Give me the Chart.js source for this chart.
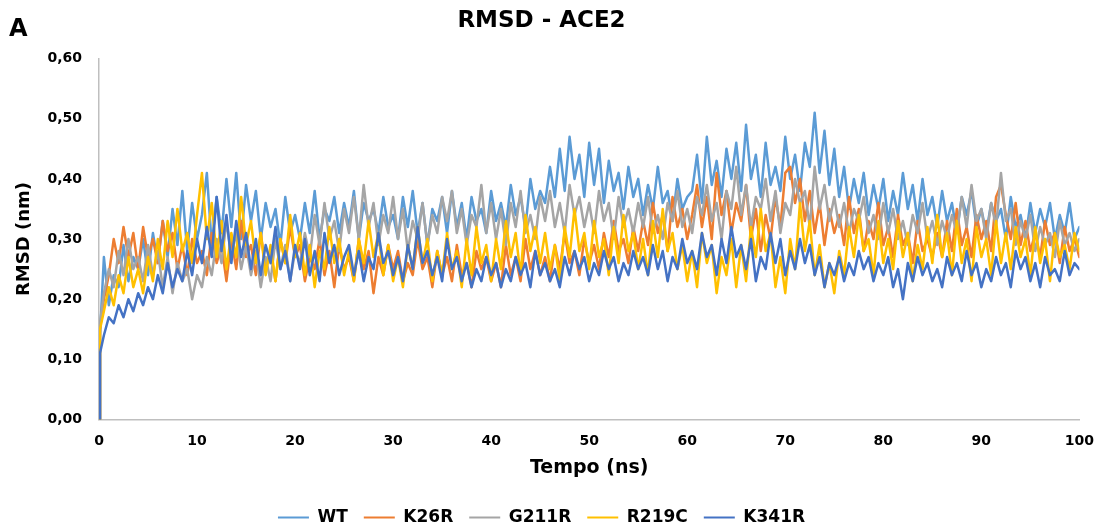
<!DOCTYPE html>
<html>
<head>
<meta charset="utf-8">
<script src="https://cdn.jsdelivr.net/npm/chart.js@4.4.1/dist/chart.umd.min.js"></script>
<style>
html,body{margin:0;padding:0;background:#fff;}
#wrap{position:relative;width:1107px;height:526px;}
</style>
</head>
<body>
<div id="wrap"><canvas id="c" width="1107" height="526"></canvas></div>
<script>
const tempo = [0,0.1,
0.5,1,1.5,2,2.5,3,3.5,4,4.5,5,
5.5,6,6.5,7,7.5,8,8.5,9,9.5,10,
10.5,11,11.5,12,12.5,13,13.5,14,14.5,15,
15.5,16,16.5,17,17.5,18,18.5,19,19.5,20,
20.5,21,21.5,22,22.5,23,23.5,24,24.5,25,
25.5,26,26.5,27,27.5,28,28.5,29,29.5,30,
30.5,31,31.5,32,32.5,33,33.5,34,34.5,35,
35.5,36,36.5,37,37.5,38,38.5,39,39.5,40,
40.5,41,41.5,42,42.5,43,43.5,44,44.5,45,
45.5,46,46.5,47,47.5,48,48.5,49,49.5,50,
50.5,51,51.5,52,52.5,53,53.5,54,54.5,55,
55.5,56,56.5,57,57.5,58,58.5,59,59.5,60,
60.5,61,61.5,62,62.5,63,63.5,64,64.5,65,
65.5,66,66.5,67,67.5,68,68.5,69,69.5,70,
70.5,71,71.5,72,72.5,73,73.5,74,74.5,75,
75.5,76,76.5,77,77.5,78,78.5,79,79.5,80,
80.5,81,81.5,82,82.5,83,83.5,84,84.5,85,
85.5,86,86.5,87,87.5,88,88.5,89,89.5,90,
90.5,91,91.5,92,92.5,93,93.5,94,94.5,95,
95.5,96,96.5,97,97.5,98,98.5,99,99.5,100];

const wt = [0,0.14,
0.27,0.19,0.24,0.22,0.29,0.23,0.27,0.25,0.30,0.24,
0.31,0.26,0.33,0.27,0.35,0.29,0.38,0.28,0.36,0.30,
0.34,0.41,0.29,0.37,0.31,0.40,0.32,0.41,0.30,0.39,
0.33,0.38,0.30,0.36,0.32,0.35,0.29,0.37,0.31,0.34,
0.30,0.36,0.31,0.38,0.30,0.35,0.33,0.37,0.31,0.36,
0.32,0.38,0.30,0.36,0.33,0.35,0.31,0.37,0.32,0.34,
0.30,0.37,0.32,0.38,0.31,0.36,0.29,0.35,0.33,0.37,
0.31,0.38,0.32,0.36,0.30,0.37,0.33,0.35,0.31,0.38,
0.33,0.36,0.32,0.39,0.34,0.37,0.32,0.40,0.35,0.38,
0.36,0.42,0.37,0.45,0.38,0.47,0.40,0.44,0.37,0.46,
0.39,0.45,0.36,0.43,0.38,0.41,0.35,0.42,0.37,0.40,
0.34,0.39,0.35,0.42,0.36,0.38,0.33,0.40,0.35,0.37,
0.38,0.44,0.36,0.47,0.39,0.43,0.37,0.45,0.40,0.46,
0.38,0.49,0.40,0.44,0.37,0.46,0.39,0.42,0.38,0.47,
0.40,0.44,0.38,0.46,0.42,0.51,0.41,0.48,0.39,0.45,
0.37,0.42,0.35,0.40,0.36,0.41,0.34,0.39,0.35,0.40,
0.33,0.38,0.34,0.41,0.35,0.39,0.33,0.40,0.34,0.37,
0.32,0.38,0.33,0.36,0.31,0.37,0.34,0.38,0.32,0.35,
0.31,0.36,0.33,0.35,0.30,0.37,0.32,0.34,0.30,0.36,
0.31,0.35,0.32,0.36,0.30,0.34,0.31,0.36,0.30,0.32];

const k26r = [0,0.15,
0.20,0.24,0.30,0.26,0.32,0.27,0.31,0.25,0.32,0.27,
0.30,0.26,0.33,0.28,0.31,0.25,0.29,0.24,0.30,0.26,
0.28,0.24,0.31,0.26,0.29,0.23,0.30,0.25,0.33,0.27,
0.29,0.24,0.31,0.25,0.28,0.23,0.30,0.26,0.32,0.27,
0.29,0.23,0.27,0.25,0.30,0.24,0.28,0.22,0.29,0.25,
0.27,0.23,0.30,0.25,0.28,0.21,0.27,0.24,0.29,0.25,
0.28,0.23,0.26,0.24,0.30,0.25,0.27,0.22,0.28,0.24,
0.27,0.23,0.29,0.24,0.26,0.22,0.28,0.25,0.27,0.23,
0.26,0.22,0.29,0.24,0.27,0.23,0.30,0.25,0.28,0.24,
0.27,0.23,0.29,0.25,0.31,0.26,0.28,0.24,0.30,0.26,
0.29,0.25,0.31,0.27,0.33,0.28,0.30,0.26,0.32,0.28,
0.33,0.29,0.36,0.31,0.34,0.28,0.37,0.32,0.35,0.30,
0.34,0.39,0.32,0.37,0.30,0.41,0.34,0.38,0.31,0.36,
0.33,0.39,0.30,0.35,0.28,0.34,0.30,0.37,0.32,0.41,
0.42,0.36,0.40,0.33,0.38,0.31,0.36,0.29,0.35,0.31,
0.34,0.29,0.37,0.31,0.35,0.28,0.33,0.30,0.36,0.29,
0.32,0.27,0.34,0.29,0.31,0.26,0.33,0.28,0.30,0.27,
0.31,0.27,0.33,0.28,0.35,0.29,0.32,0.27,0.34,0.30,
0.33,0.28,0.37,0.39,0.34,0.30,0.36,0.29,0.33,0.28,
0.31,0.27,0.33,0.29,0.31,0.26,0.32,0.28,0.30,0.27];

const g211r = [0,0.16,
0.21,0.25,0.22,0.28,0.24,0.30,0.25,0.27,0.23,0.29,
0.24,0.28,0.22,0.27,0.21,0.26,0.23,0.25,0.20,0.24,
0.22,0.27,0.24,0.30,0.26,0.33,0.27,0.31,0.25,0.29,
0.24,0.28,0.22,0.27,0.23,0.30,0.25,0.29,0.23,0.28,
0.26,0.31,0.27,0.34,0.29,0.36,0.30,0.33,0.28,0.35,
0.31,0.37,0.30,0.39,0.32,0.36,0.29,0.34,0.31,0.37,
0.30,0.35,0.28,0.33,0.30,0.36,0.29,0.34,0.31,0.37,
0.33,0.38,0.31,0.35,0.29,0.34,0.32,0.39,0.31,0.36,
0.30,0.35,0.29,0.36,0.32,0.38,0.31,0.34,0.30,0.37,
0.33,0.38,0.32,0.36,0.31,0.39,0.34,0.37,0.32,0.36,
0.31,0.38,0.33,0.36,0.30,0.37,0.32,0.35,0.31,0.36,
0.32,0.37,0.31,0.34,0.30,0.36,0.33,0.38,0.32,0.35,
0.31,0.37,0.34,0.39,0.33,0.36,0.30,0.38,0.35,0.42,
0.34,0.39,0.32,0.37,0.35,0.40,0.33,0.38,0.31,0.36,
0.34,0.40,0.36,0.38,0.32,0.42,0.35,0.39,0.33,0.37,
0.32,0.36,0.31,0.35,0.33,0.37,0.31,0.34,0.30,0.36,
0.31,0.35,0.30,0.33,0.29,0.34,0.31,0.36,0.30,0.33,
0.29,0.33,0.30,0.34,0.31,0.37,0.32,0.39,0.33,0.35,
0.30,0.36,0.32,0.41,0.33,0.35,0.29,0.33,0.30,0.34,
0.28,0.32,0.29,0.31,0.27,0.33,0.29,0.31,0.28,0.30];

const r219c = [0,0.15,
0.18,0.22,0.19,0.24,0.21,0.27,0.22,0.25,0.21,0.27,
0.23,0.30,0.25,0.33,0.27,0.35,0.28,0.31,0.26,0.34,
0.41,0.30,0.36,0.27,0.33,0.25,0.31,0.27,0.37,0.29,
0.33,0.26,0.31,0.24,0.29,0.23,0.30,0.26,0.34,0.27,
0.31,0.24,0.29,0.22,0.28,0.25,0.32,0.26,0.30,0.24,
0.28,0.23,0.30,0.26,0.33,0.27,0.31,0.24,0.29,0.23,
0.27,0.22,0.29,0.25,0.32,0.26,0.30,0.23,0.28,0.24,
0.31,0.25,0.28,0.22,0.30,0.24,0.32,0.26,0.29,0.23,
0.30,0.25,0.33,0.27,0.31,0.24,0.34,0.28,0.32,0.26,
0.31,0.25,0.29,0.23,0.32,0.27,0.35,0.28,0.31,0.25,
0.33,0.27,0.30,0.24,0.32,0.26,0.34,0.28,0.31,0.25,
0.30,0.24,0.33,0.27,0.35,0.28,0.31,0.25,0.29,0.23,
0.28,0.22,0.31,0.26,0.29,0.21,0.27,0.24,0.30,0.22,
0.29,0.23,0.32,0.27,0.35,0.28,0.31,0.22,0.27,0.21,
0.30,0.25,0.36,0.28,0.33,0.24,0.29,0.22,0.26,0.21,
0.28,0.24,0.32,0.27,0.34,0.28,0.30,0.24,0.33,0.26,
0.30,0.25,0.33,0.27,0.31,0.23,0.29,0.25,0.32,0.26,
0.34,0.27,0.31,0.24,0.33,0.26,0.30,0.23,0.32,0.27,
0.30,0.24,0.33,0.26,0.31,0.25,0.32,0.27,0.30,0.24,
0.32,0.26,0.30,0.23,0.31,0.27,0.29,0.25,0.31,0.28];

const k341r = [0,0.11,
0.14,0.17,0.16,0.19,0.17,0.20,0.18,0.21,0.19,0.22,
0.20,0.24,0.21,0.26,0.22,0.25,0.23,0.28,0.24,0.30,
0.26,0.32,0.27,0.37,0.28,0.34,0.26,0.33,0.27,0.31,
0.25,0.30,0.24,0.29,0.26,0.32,0.25,0.28,0.23,0.29,
0.25,0.30,0.24,0.28,0.23,0.31,0.26,0.29,0.24,0.27,
0.29,0.24,0.28,0.23,0.27,0.25,0.31,0.26,0.28,0.24,
0.27,0.23,0.29,0.25,0.32,0.26,0.28,0.24,0.27,0.23,
0.30,0.25,0.27,0.23,0.26,0.22,0.25,0.23,0.27,0.24,
0.26,0.22,0.25,0.23,0.27,0.24,0.26,0.22,0.28,0.24,
0.26,0.23,0.25,0.22,0.27,0.24,0.28,0.25,0.27,0.23,
0.26,0.24,0.28,0.25,0.27,0.23,0.26,0.24,0.28,0.25,
0.27,0.24,0.29,0.25,0.28,0.23,0.27,0.25,0.30,0.26,
0.28,0.25,0.31,0.27,0.29,0.24,0.30,0.26,0.32,0.27,
0.29,0.25,0.30,0.23,0.27,0.25,0.31,0.26,0.30,0.24,
0.28,0.25,0.30,0.26,0.29,0.24,0.27,0.22,0.26,0.24,
0.27,0.23,0.26,0.24,0.28,0.25,0.27,0.23,0.26,0.24,
0.27,0.22,0.25,0.20,0.26,0.23,0.27,0.24,0.26,0.23,
0.25,0.22,0.27,0.24,0.26,0.23,0.28,0.24,0.26,0.22,
0.25,0.23,0.27,0.24,0.26,0.22,0.28,0.25,0.27,0.23,
0.26,0.22,0.27,0.24,0.25,0.23,0.28,0.24,0.26,0.25];

const seriesNames = ['WT','K26R','G211R','R219C','K341R'];
const seriesColors = ['#5B9BD5','#ED7D31','#A5A5A5','#FFC000','#4472C4'];
const seriesValues = [wt, k26r, g211r, r219c, k341r];
const yTickLabels = ['0,00','0,10','0,20','0,30','0,40','0,50','0,60'];
const xTickLabels = ['0','10','20','30','40','50','60','70','80','90','100'];

const FONT = 'DejaVu Sans';

const datasets = seriesNames.map((name, s) => ({
  label: name,
  data: tempo.map((t, i) => ({x: t, y: seriesValues[s][i]})),
  borderColor: seriesColors[s],
  backgroundColor: seriesColors[s],
  borderWidth: 2.5,
  borderJoinStyle: 'round',
  borderCapStyle: 'round',
  pointRadius: 0,
  tension: 0,
  fill: false,
  order: seriesNames.length - s
}));

const panelLabel = {
  id: 'panelLabel',
  afterDraw(chart) {
    const ctx = chart.ctx;
    ctx.save();
    ctx.font = 'bold 24px ' + FONT;
    ctx.fillStyle = '#000';
    ctx.textBaseline = 'alphabetic';
    ctx.textAlign = 'left';
    ctx.fillText('A', 9, 36);
    ctx.restore();
  }
};

new Chart(document.getElementById('c'), {
  type: 'line',
  data: { datasets },
  plugins: [panelLabel],
  options: {
    responsive: false,
    animation: false,
    events: [],
    layout: { padding: { left: 0, right: 24, top: 0, bottom: -10 } },
    plugins: {
      title: {
        display: true,
        text: 'RMSD - ACE2',
        color: '#000',
        font: { family: FONT, size: 23, weight: 'bold' },
        padding: { top: 7, bottom: 24 }
      },
      legend: {
        display: true,
        position: 'bottom',
        labels: {
          color: '#000',
          font: { family: FONT, size: 17, weight: 'bold' },
          boxWidth: 31,
          boxHeight: 2,
          padding: 16,
          sort: (a, b) => a.datasetIndex - b.datasetIndex,
          generateLabels(chart) {
            const items = Chart.defaults.plugins.legend.labels.generateLabels(chart);
            items.forEach(it => { it.lineWidth = 0; it.fillStyle = seriesColors[it.datasetIndex]; });
            return items;
          }
        }
      },
      tooltip: { enabled: false }
    },
    scales: {
      x: {
        type: 'linear',
        min: 0, max: 100,
        grid: { display: false, drawTicks: false },
        border: { display: true, color: '#BFBFBF', width: 1.5 },
        ticks: {
          stepSize: 10,
          padding: 13,
          color: '#000',
          maxRotation: 0,
          font: { family: FONT, size: 14, weight: 'bold' },
          callback: (v, i) => xTickLabels[i]
        },
        title: {
          display: true,
          text: 'Tempo (ns)',
          color: '#000',
          font: { family: FONT, size: 19, weight: 'bold' },
          padding: { top: 0, bottom: 14 }
        },
        afterFit(scale) { scale.height = 73.5; }
      },
      y: {
        type: 'linear',
        min: 0, max: 0.6,
        grid: { display: false, drawTicks: false },
        border: { display: true, color: '#BFBFBF', width: 1.5 },
        ticks: {
          stepSize: 0.1,
          padding: 17,
          color: '#000',
          font: { family: FONT, size: 14, weight: 'bold' },
          callback: (v, i) => yTickLabels[i]
        },
        title: {
          display: true,
          text: 'RMSD (nm)',
          color: '#000',
          font: { family: FONT, size: 18, weight: 'bold' },
          padding: { top: 14, bottom: 0 }
        },
        afterFit(scale) { scale.width = 99; }
      }
    }
  }
});
</script>
</body>
</html>
